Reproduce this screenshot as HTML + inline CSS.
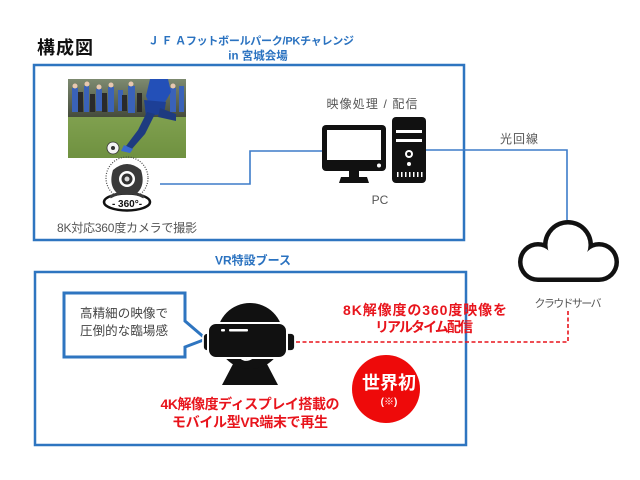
<!DOCTYPE html>
<html><head><meta charset="utf-8"><style>
html,body{margin:0;padding:0;background:#fff;}
svg{display:block;}
text{font-family:"Liberation Sans","Noto Sans CJK JP",sans-serif;}
</style></head><body>
<svg width="640" height="480" viewBox="0 0 640 480" xmlns="http://www.w3.org/2000/svg">
<rect width="640" height="480" fill="#fff"/>
<!-- title -->
<text x="37" y="54" font-size="18" font-weight="bold" fill="#111" textLength="56">構成図</text>
<text x="251" y="44.5" font-size="11" font-weight="bold" fill="#2a72c0" text-anchor="middle" textLength="206">Ｊ Ｆ Ａフットボールパーク/PKチャレンジ</text>
<text x="258" y="59.5" font-size="11.5" font-weight="bold" fill="#2a72c0" text-anchor="middle">in 宮城会場</text>

<!-- boxes -->
<rect x="34" y="65" width="430" height="175" fill="none" stroke="#2e75c0" stroke-width="2.5"/>
<rect x="35" y="272" width="431" height="173" fill="none" stroke="#2e75c0" stroke-width="2.5"/>
<text x="253" y="264.5" font-size="12" font-weight="bold" fill="#2a72c0" text-anchor="middle">VR特設ブース</text>

<!-- connectors -->
<polyline points="160,184 250,184 250,151 322,151" fill="none" stroke="#3d7cc9" stroke-width="1.6"/>
<polyline points="426,150 567,150 567,220" fill="none" stroke="#3d7cc9" stroke-width="1.6"/>
<polyline points="296,342 568,342 568,309" fill="none" stroke="#e8141c" stroke-width="1.6" stroke-dasharray="4,2.5"/>

<!-- photo -->
<defs>
<linearGradient id="grass" x1="0" y1="0" x2="0" y2="1"><stop offset="0" stop-color="#8fae5c"/><stop offset="1" stop-color="#6f9140"/></linearGradient>
<linearGradient id="crowd" x1="0" y1="0" x2="0" y2="1"><stop offset="0" stop-color="#7d8a70"/><stop offset="1" stop-color="#454b3c"/></linearGradient>
</defs>
<rect x="68" y="79" width="118" height="79" fill="url(#grass)"/>
<rect x="68" y="79" width="118" height="38" fill="url(#crowd)"/>
<g fill="#3a62b8">
<rect x="72" y="88" width="6" height="24"/><rect x="84" y="86" width="5" height="26"/><rect x="96" y="89" width="6" height="22"/>
<rect x="108" y="87" width="6" height="25"/><rect x="118" y="90" width="5" height="21"/><rect x="128" y="86" width="7" height="27"/>
<rect x="170" y="88" width="6" height="24"/><rect x="179" y="86" width="5" height="26"/>
</g>
<g fill="#2a2a2a"><rect x="78" y="92" width="5" height="20"/><rect x="90" y="94" width="5" height="18"/><rect x="102" y="93" width="5" height="19"/><rect x="122" y="95" width="5" height="16"/><rect x="137" y="93" width="5" height="19"/></g>
<g fill="#e8c8b0"><circle cx="75" cy="86" r="2.5"/><circle cx="87" cy="84" r="2.5"/><circle cx="99" cy="87" r="2.5"/><circle cx="111" cy="85" r="2.5"/><circle cx="131" cy="84" r="2.5"/><circle cx="173" cy="86" r="2.5"/></g>
<!-- player -->
<path d="M150,79 L168,79 L171,92 L164,104 L150,106 L146,96 Z" fill="#2350b8"/>
<path d="M144,100 L166,102 L164,114 L146,116 Z" fill="#1d3f96"/>
<path d="M147,112 L138,130 L126,146 L131,150 L145,134 L155,114 Z" fill="#1e3b80"/>
<path d="M160,108 L176,114 L176,121 L158,117 Z" fill="#1e3b80"/>
<path d="M124,145 L133,149 L130,153 L121,151 Z" fill="#3a6ad0"/>
<circle cx="113" cy="148" r="6" fill="#f4f4f4" stroke="#333" stroke-width="0.8"/>
<circle cx="113" cy="148" r="2" fill="#333"/>

<!-- 360 camera -->
<circle cx="127" cy="178" r="21" fill="none" stroke="#444" stroke-width="1.2" stroke-dasharray="1,1.5"/>
<path d="M113,170 Q127,158 141,170 Q146,186 136,194 Q127,198 118,194 Q108,186 113,170 Z" fill="#3a3a3a"/>
<circle cx="127" cy="179" r="8" fill="#fff"/>
<circle cx="127" cy="179" r="5.5" fill="#333"/>
<circle cx="127" cy="179" r="2.5" fill="#ddd"/>
<ellipse cx="127" cy="202" rx="23" ry="8.5" fill="#fff" stroke="#111" stroke-width="2.5"/>
<path d="M110,197 Q127,188 144,197" fill="none" stroke="#3a3a3a" stroke-width="3"/>
<text x="127" y="207" font-size="10" font-weight="bold" fill="#111" text-anchor="middle">- 360°-</text>
<text x="127" y="232" font-size="12" fill="#555" text-anchor="middle" textLength="140">8K対応360度カメラで撮影</text>

<!-- PC -->
<text x="372" y="108" font-size="12" fill="#555" text-anchor="middle" textLength="91">映像処理 / 配信</text>
<rect x="322" y="125" width="64" height="46" rx="4" fill="#111"/>
<rect x="327" y="130" width="54" height="30" fill="#fff"/>
<circle cx="379" cy="165.5" r="2" fill="#fff"/>
<rect x="349" y="170" width="10" height="8" fill="#111"/>
<path d="M339,183 L341,177 L367,177 L369,183 Z" fill="#111"/>
<rect x="392" y="117" width="34" height="66" rx="4" fill="#111"/>
<rect x="396" y="130" width="26" height="3" fill="#fff"/>
<rect x="396" y="139" width="26" height="3" fill="#fff"/>
<circle cx="409" cy="154" r="4" fill="#fff"/>
<circle cx="409" cy="154" r="2" fill="#111"/>
<circle cx="409" cy="164" r="2" fill="#fff"/>
<g fill="#fff"><rect x="397" y="172" width="1.5" height="5"/><rect x="401" y="172" width="1.5" height="5"/><rect x="405" y="172" width="1.5" height="5"/><rect x="409" y="172" width="1.5" height="5"/><rect x="413" y="172" width="1.5" height="5"/><rect x="417" y="172" width="1.5" height="5"/><rect x="421" y="172" width="1.5" height="5"/></g>
<text x="380" y="204" font-size="12" fill="#555" text-anchor="middle">PC</text>
<text x="519" y="143" font-size="12" fill="#555" text-anchor="middle" textLength="38">光回線</text>

<!-- cloud -->
<g fill="#111">
<circle cx="538" cy="262" r="20"/><circle cx="568" cy="245" r="25"/><circle cx="599" cy="262" r="20"/>
<rect x="538" y="252" width="61" height="30"/>
</g>
<g fill="#fff">
<circle cx="538" cy="262" r="15.5"/><circle cx="568" cy="245" r="20.5"/><circle cx="599" cy="262" r="15.5"/>
<rect x="538" y="252" width="61" height="25.5"/>
</g>
<text x="568" y="307" font-size="11" fill="#555" text-anchor="middle" textLength="67">クラウドサーバ</text>

<!-- speech bubble -->
<path d="M64,293 H185 V321 L206,339 L185,347 V357 H64 Z" fill="#fff" stroke="#2e75c0" stroke-width="3" stroke-linejoin="miter"/>
<text x="124" y="317.5" font-size="12.5" fill="#444" text-anchor="middle" textLength="88">高精細の映像で</text>
<text x="124" y="335" font-size="12.5" fill="#444" text-anchor="middle" textLength="88">圧倒的な臨場感</text>

<!-- VR head -->
<path d="M222,385 L233,364 L267,364 L278,385 Z" fill="#111"/>
<circle cx="250" cy="336" r="33" fill="#111"/>
<rect x="203" y="333" width="12" height="18" rx="4" fill="#111" stroke="#fff" stroke-width="1.8"/>
<rect x="283" y="333" width="12" height="18" rx="4" fill="#111" stroke="#fff" stroke-width="1.8"/>
<rect x="208" y="323" width="79" height="35" rx="8" fill="#111" stroke="#fff" stroke-width="2"/>
<rect x="221" y="329" width="4" height="2.5" rx="1" fill="#fff"/>
<rect x="229" y="329" width="19" height="2.5" rx="1" fill="#fff"/>
<path d="M241,358 Q246,362 252,358" fill="none" stroke="#fff" stroke-width="1.8"/>

<!-- red text -->
<text x="425" y="315" font-size="14" font-weight="bold" fill="#e8141c" text-anchor="middle" textLength="164">8K解像度の360度映像を</text>
<text x="424" y="332" font-size="14" font-weight="bold" fill="#e8141c" text-anchor="middle" textLength="98">リアルタイム配信</text>
<circle cx="386" cy="389" r="34" fill="#ee0a0a"/>
<text x="389" y="389" font-size="18" font-weight="bold" fill="#fff" text-anchor="middle">世界初</text>
<text x="389" y="405" font-size="10" font-weight="bold" fill="#fff" text-anchor="middle">(※)</text>
<text x="250" y="409" font-size="14" font-weight="bold" fill="#e8141c" text-anchor="middle" textLength="179">4K解像度ディスプレイ搭載の</text>
<text x="250" y="427" font-size="14" font-weight="bold" fill="#e8141c" text-anchor="middle" textLength="156">モバイル型VR端末で再生</text>
</svg>
</body></html>
